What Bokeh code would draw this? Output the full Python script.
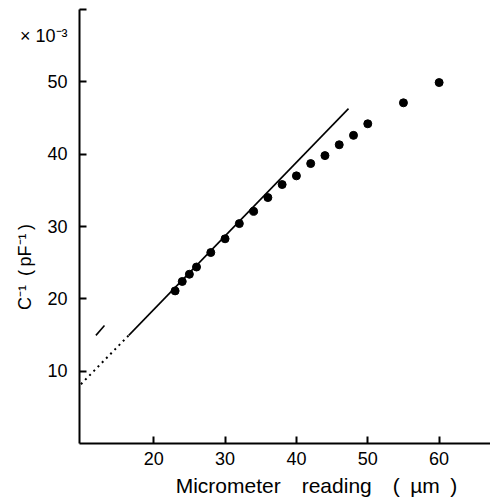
from bokeh.plotting import figure
from bokeh.models import LinearAxis, FixedTicker, ColumnDataSource
from bokeh.embed import file_html
from bokeh.resources import INLINE

# Data
reading_um = [23, 24, 25, 26, 28, 30, 32, 34, 36, 38, 40, 42, 44, 46, 48, 50, 55, 60]
inv_cap = [21.1, 22.4, 23.4, 24.4, 26.4, 28.3, 30.4, 32.1, 34.0, 35.8, 37.0, 38.7,
           39.8, 41.3, 42.6, 44.2, 47.1, 49.9]

fit_solid_x = [16.5, 47.3]
fit_solid_y = [14.95, 46.3]
fit_dotted_x = [9.8, 16.5]
fit_dotted_y = [8.2, 14.95]
mark_x = [11.9, 13.1]
mark_y = [14.95, 16.3]

x_ticks = [20, 30, 40, 50, 60]
y_tick_marks = [10, 20, 30, 40, 50, 60]
y_tick_labels = [10, 20, 30, 40, 50]
scale_note_y = 56.4
scale_note = "\u00d7 10\u207b\u00b3"

FONT = "Liberation Sans"
EN = "\u2002"

p = figure(width=490, height=499, x_range=(9.6, 67.2), y_range=(0, 60),
           output_backend="svg", toolbar_location=None,
           min_border_left=79, min_border_right=0, min_border_top=9, min_border_bottom=54)
p.outline_line_color = None
p.xgrid.visible = False
p.ygrid.visible = False
p.background_fill_color = "white"
p.border_fill_color = "white"

for ax in (p.xaxis[0], p.yaxis[0]):
    ax.axis_line_width = 2
    ax.axis_line_color = "black"
    ax.major_tick_in = 7
    ax.major_tick_out = 0
    ax.major_tick_line_width = 2
    ax.minor_tick_line_color = None
    ax.major_label_text_font = FONT
    ax.major_label_text_font_size = "18px"
    ax.major_label_text_color = "black"
    ax.axis_label_text_font = FONT
    ax.axis_label_text_font_style = "normal"
    ax.axis_label_text_color = "black"

p.xaxis[0].ticker = FixedTicker(ticks=x_ticks)
p.xaxis[0].major_label_standoff = 8
p.xaxis[0].axis_label = EN * 6 + "Micrometer" + EN * 2 + "reading" + EN * 2 + "(" + EN + "\u00b5m" + EN + ")"
p.xaxis[0].axis_label_text_font_size = "21px"
p.xaxis[0].axis_label_standoff = 6

# inner left axis: axis line and tick marks only
ya = p.yaxis[0]
ya.ticker = FixedTicker(ticks=y_tick_marks)
ya.major_label_overrides = {t: "" for t in y_tick_marks}
ya.major_label_standoff = 0

# outer left axis: tick labels, scale note and axis label
yb = LinearAxis(ticker=FixedTicker(ticks=y_tick_labels + [scale_note_y]),
                major_label_overrides={scale_note_y: scale_note},
                axis_line_color=None, major_tick_line_color=None, minor_tick_line_color=None,
                major_tick_in=0, major_tick_out=0, major_label_standoff=12,
                major_label_text_font=FONT, major_label_text_font_size="18px",
                major_label_text_color="black",
                axis_label="C\u207b\u00b9" + EN + "(\u2009pF\u207b\u00b9\u2009)" + EN * 9,
                axis_label_text_font=FONT, axis_label_text_font_style="normal",
                axis_label_text_font_size="18px", axis_label_text_color="black",
                axis_label_standoff=-18)
p.add_layout(yb, "left")

src = ColumnDataSource(dict(x=reading_um, y=inv_cap))
p.scatter("x", "y", source=src, size=8, color="black")
p.line(fit_solid_x, fit_solid_y, line_width=1.6, color="black")
p.line(fit_dotted_x, fit_dotted_y, line_width=2, color="black", line_dash="2 4")
p.line(mark_x, mark_y, line_width=1.6, color="black")

open("out.html", "w").write(file_html(p, INLINE))
